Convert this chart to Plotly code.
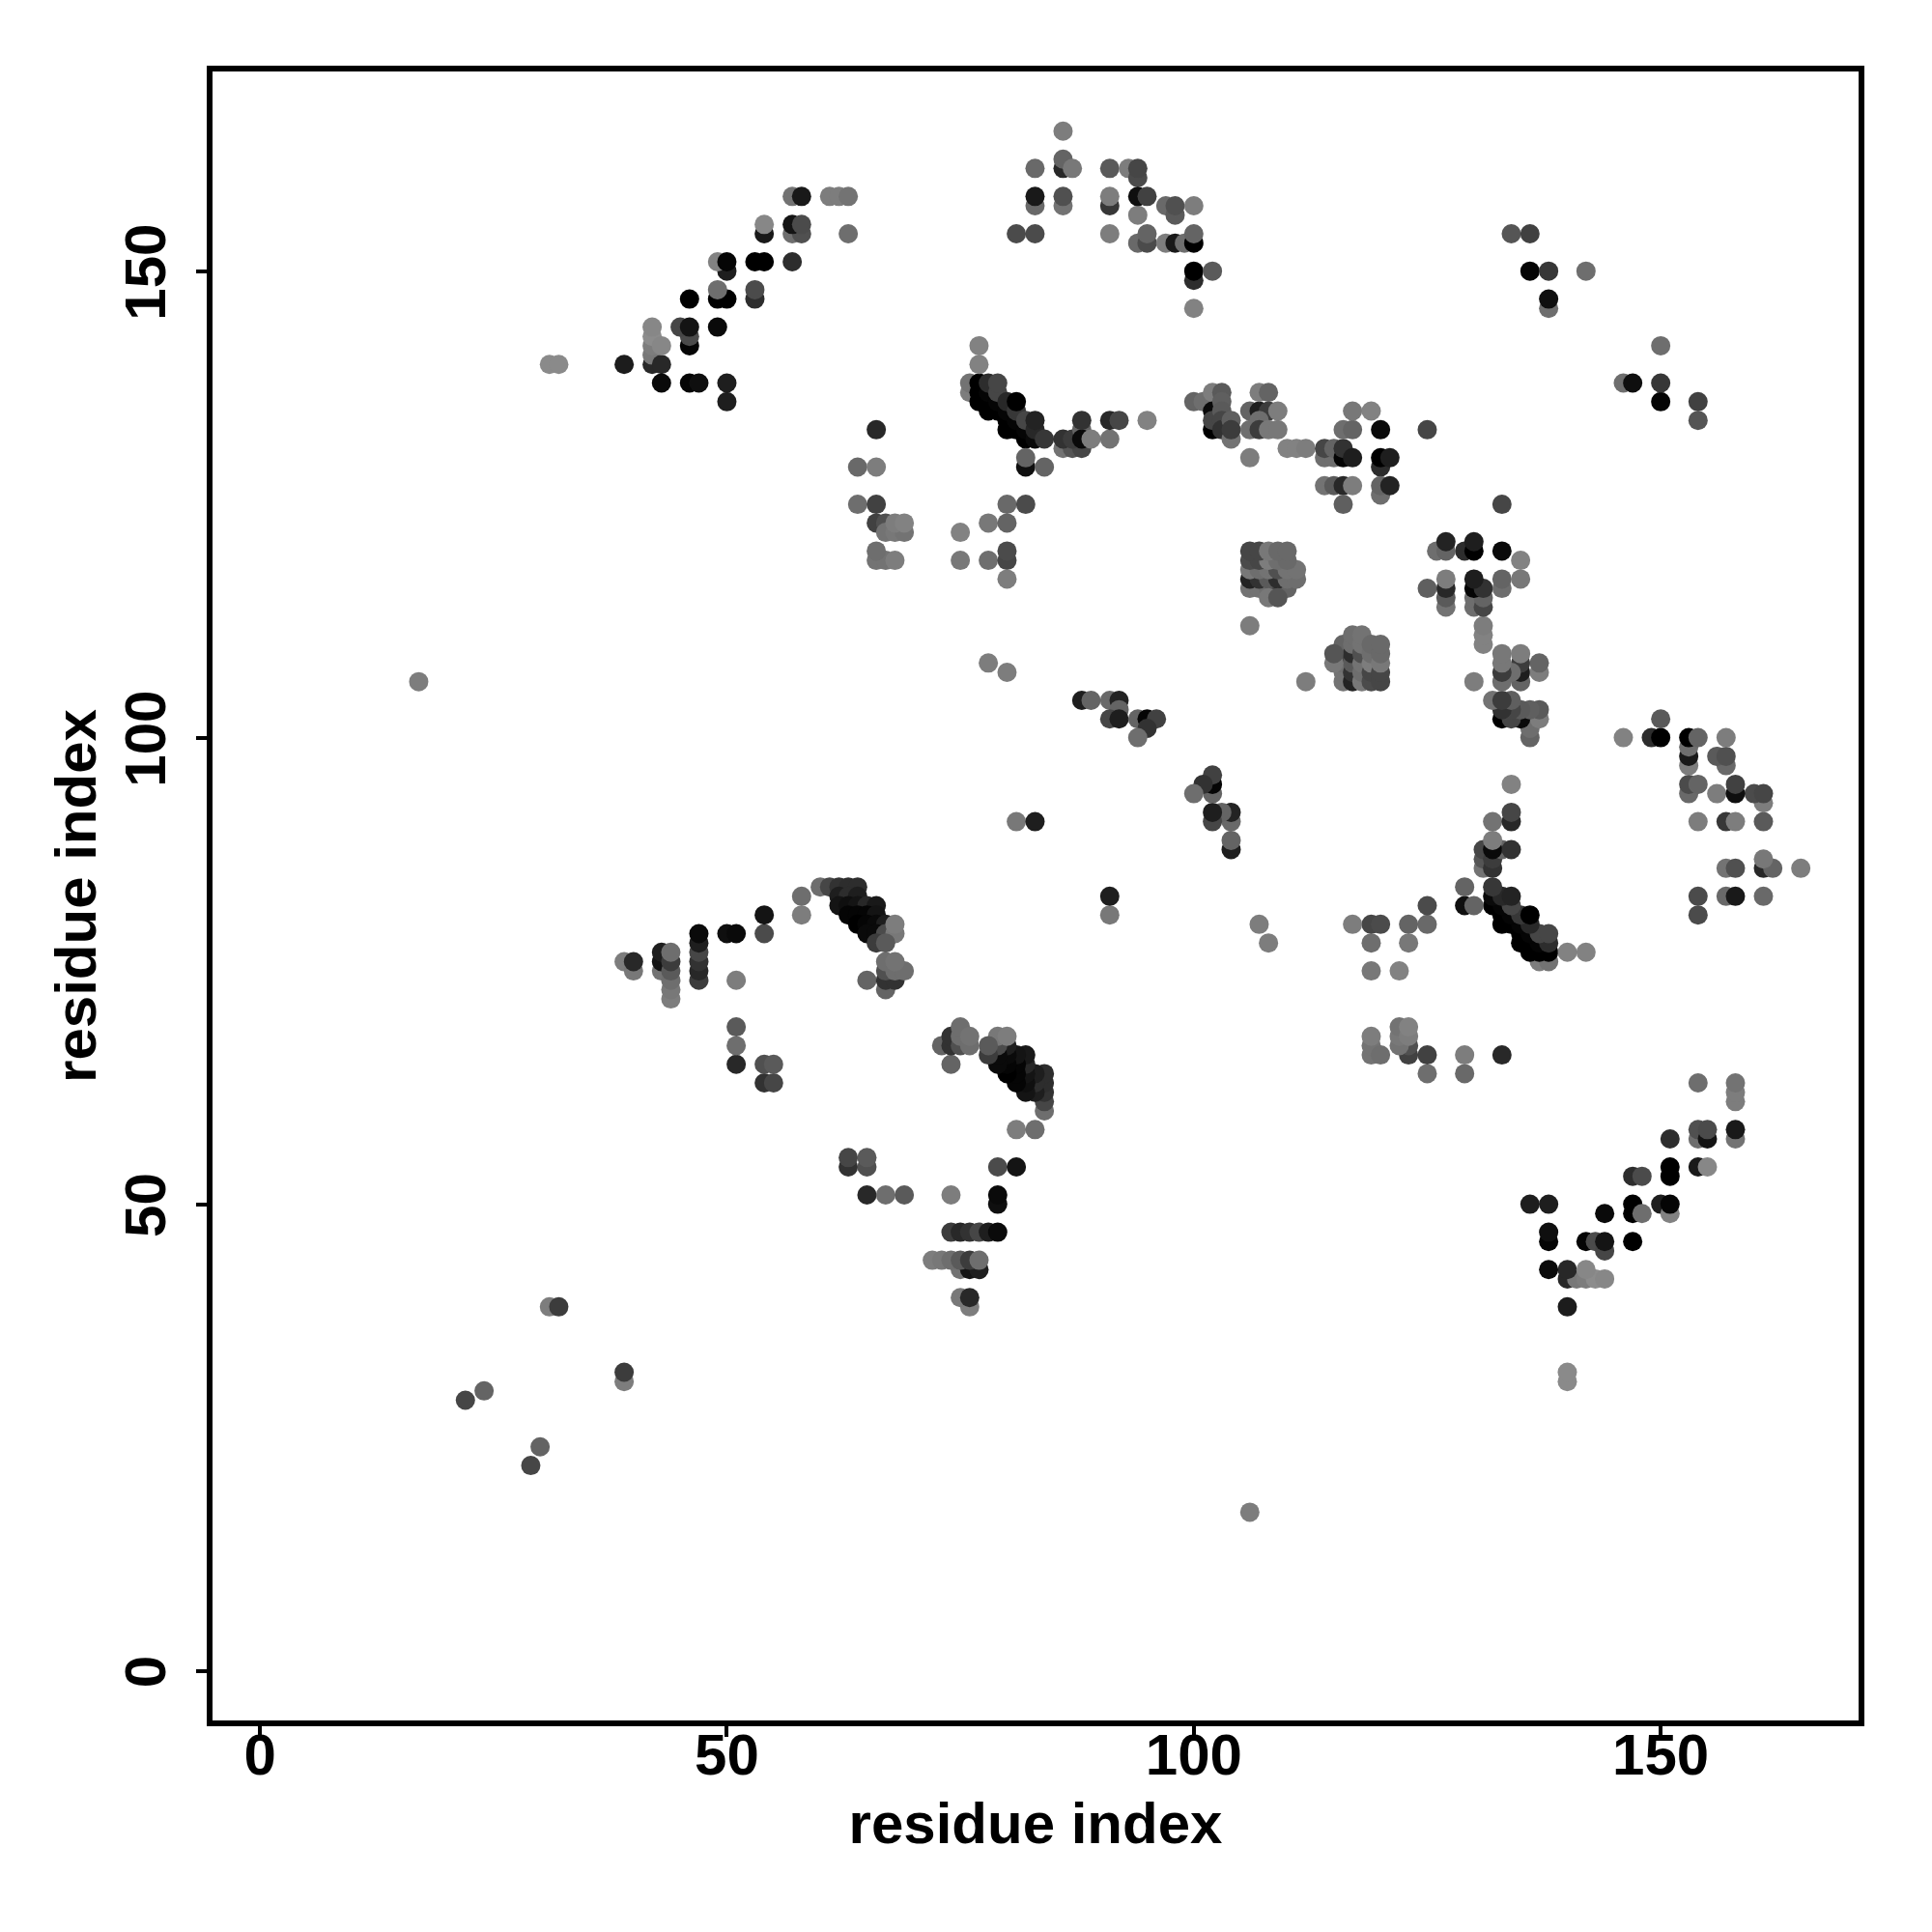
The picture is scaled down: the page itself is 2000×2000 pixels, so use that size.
import plotly.graph_objects as go

tick_values = [0, 50, 100, 150]
axis_label = "residue index"

# Each cluster: lower residue, higher residue, grey level (contacts are symmetric)
arc_a = [31,32,39,42,42,43,42,42,42,43,43,46,47,50,50,46,46,45,46,49,49,50,46,53,53,49,50,49,50,53,54,57,54,54,57,58,57,58,63,57,58,61,62,63]
arc_b = [140,140,140,140,141,140,142,143,144,142,138,138,138,138,136,142,143,144,144,144,147,147,147,147,148,148,150,151,151,151,151,151,154,155,154,154,155,155,154,158,158,158,158,158]
arc_g = [138,138,28,40,120,40,125,140,135,135,10,5,15,30,30,5,75,70,20,10,0,0,0,45,75,110,30,130,5,0,0,45,25,135,110,80,20,75,110,115,25,125,125,115]

top_a = [81,83,83,83,86,86,86,86,87,86,83,91,91,91,91,93,94,94,94,94,95,97,98,98,100,94,95,95,97,98,99,100,100,100,100,102,100]
top_b = [154,154,157,158,157,158,161,162,161,165,161,154,157,158,161,161,160,161,156,158,158,157,156,157,157,153,153,154,153,153,153,153,154,149,150,150,146]
top_g = [75,75,105,25,115,80,40,100,120,125,105,125,55,125,90,125,75,70,125,15,65,105,90,80,125,105,75,100,125,25,110,0,100,45,0,90,130]

band_a = [76,76,77,77,77,78,78,78,79,79,78,79,79,80,80,80,81,81,80,81,81,82,82,83,82,83,83,84]
band_b = [137,138,136,137,138,135,136,137,135,136,138,137,138,133,134,135,133,134,136,135,136,132,133,132,134,133,134,132]
band_g = [125,115,0,0,0,0,0,5,0,5,45,70,70,0,0,5,0,5,40,55,0,0,5,10,70,40,35,55]

mid_a = [77,77,86,87,88,86,87,88,88,88,89,91,91,92,95,82,82,84,66,64,66,64,66,66,67,67,68,69,68,69,66,67,68,66,75,75,78,80,78,80,82,80,80,80]
mid_b = [140,142,131,131,131,132,132,133,132,134,132,132,134,134,134,129,130,129,133,129,129,125,125,123,123,122,122,122,123,123,119,119,119,120,122,119,123,123,119,125,125,119,120,117]
mid_g = [130,130,115,85,70,50,60,100,10,50,125,115,40,70,130,15,100,100,40,105,125,110,65,65,80,115,120,115,125,130,115,115,125,110,130,120,120,100,110,105,75,70,75,125]

upper_a = [100,101,102,102,102,102,103,103,103,103,103,104,104,104,106,107,108,109,106,107,107,108,109,107,108,106,110,111,112,114,115,114,115,116,116,117,114,115,116,117,116,116,117,117,119,120,125,120,120,121,120,120,121]
upper_b = [136,136,137,135,133,134,137,136,135,134,133,132,134,133,135,135,135,135,133,134,133,133,133,137,137,130,131,131,131,130,130,131,131,130,131,130,127,127,127,127,125,133,133,135,135,133,133,129,130,130,126,127,127]
upper_g = [100,110,125,10,0,70,90,95,90,70,50,115,95,60,100,30,60,125,110,110,60,120,120,125,100,125,130,130,125,110,110,70,100,5,50,30,115,90,40,125,95,110,100,120,130,10,70,45,0,30,110,100,35]

block_a = [106,107,108,109,110,106,107,108,109,110,111,106,107,108,109,110,111,106,107,108,109,110,106,107,108,109,110,108,109]
block_b = [116,116,116,116,116,117,117,117,117,117,117,118,118,118,118,118,118,119,119,119,119,119,120,120,120,120,120,115,115]
block_g = [115,115,110,70,100,35,50,90,45,110,110,120,110,115,80,115,115,75,70,125,110,105,70,70,120,105,105,120,85]

lone_a = [17,22,24,31,32,78,80,81,83,106,88,89,91,92,92,91,92,94,95,96,95,94,134,136,136,138,142,138,138]
lone_b = [106,29,30,39,39,108,107,91,91,112,104,104,104,104,103,102,102,102,102,102,101,100,154,154,150,150,150,146,147]
lone_g = [125,70,100,125,60,125,125,120,30,125,30,100,105,35,100,70,30,100,5,65,50,110,85,65,5,55,110,110,15]

left_a = [39,40,40,43,43,43,44,44,44,44,44,44,47,47,47,47,47,47,50,51,51,54,54,58,58,51,51,51,54,55,54,55]
left_b = [76,75,76,75,76,77,72,73,74,75,76,77,74,75,76,77,78,79,79,79,74,79,81,81,83,65,67,69,63,63,65,65]
left_g = [125,120,40,115,20,30,125,120,110,90,60,110,60,40,50,70,30,10,15,10,125,75,20,125,110,40,110,90,50,70,80,90]

curve_a = [60,61,62,63,64,62,63,64,62,63,64,65,66,63,64,65,66,64,65,66,67,65,66,67,68,68,66,67,65,67,67,68,67,68,69,67,68]
curve_b = [84,84,84,84,84,83,83,83,82,82,82,82,82,81,81,81,81,80,80,80,80,79,79,79,79,80,78,78,74,73,74,74,75,75,75,76,76]
curve_g = [110,70,50,45,45,30,45,30,20,15,20,40,25,5,5,5,20,0,5,10,30,10,10,75,120,125,60,90,100,100,50,50,80,110,110,110,115]

low = arc_a + top_a + band_a + mid_a + upper_a + block_a + lone_a + left_a + curve_a
high = arc_b + top_b + band_b + mid_b + upper_b + block_b + lone_b + left_b + curve_b
grey = arc_g + top_g + band_g + mid_g + upper_g + block_g + lone_g + left_g + curve_g

x_vals = low + high
y_vals = high + low
colors = [f"rgb({g},{g},{g})" for g in grey + grey]

fig = go.Figure(go.Scatter(
    x=x_vals, y=y_vals, mode="markers",
    marker=dict(size=20, color=colors, line=dict(width=0)),
    hoverinfo="x+y",
))

tick_font = dict(family="Liberation Sans", size=60, color="black", weight=700)
title_font = dict(family="Liberation Sans", size=60, color="black", weight=700)
axis_common = dict(
    tickmode="array", tickvals=tick_values,
    ticks="outside", ticklen=11, tickwidth=4, tickcolor="black",
    showgrid=False, zeroline=False,
    showline=True, linewidth=6, linecolor="black", mirror=True,
    tickfont=tick_font, automargin=False,
)
fig.update_xaxes(range=[-5.08, 171.19], ticklabelstandoff=-33, title=dict(text=axis_label, font=title_font, standoff=19), **axis_common)
fig.update_yaxes(range=[-5.32, 171.39], tickangle=-90, ticklabelstandoff=8, ticklabelshift=10, title=dict(text=axis_label, font=title_font, standoff=0), **axis_common)
fig.update_layout(
    width=2000, height=2000, showlegend=False,
    paper_bgcolor="white", plot_bgcolor="white",
    margin=dict(l=212, r=84, t=66, b=227),
)
fig.write_html("out.html")
